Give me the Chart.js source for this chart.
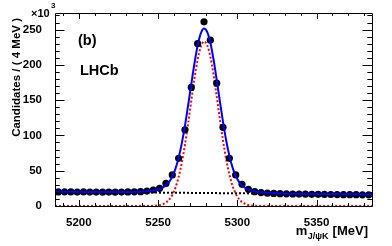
<!DOCTYPE html>
<html>
<head>
<meta charset="utf-8">
<script src="https://cdn.jsdelivr.net/npm/chart.js@4"></script>
<style>
  html, body { margin: 0; padding: 0; background: #fff; }
  #wrap { position: relative; width: 392px; height: 246px; }
</style>
</head>
<body>
<div id="wrap"><canvas id="massChart" width="392" height="246"></canvas></div>
<script>
// Bin centres (4 MeV bins) and candidates per bin, in units of 10^3
const binCenters = [5187, 5191, 5195, 5199, 5203, 5207, 5211, 5215, 5219, 5223,
    5227, 5231, 5235, 5239, 5243, 5247, 5251, 5255, 5259, 5263,
    5267, 5271, 5275, 5279, 5283, 5287, 5291, 5295, 5299, 5303,
    5307, 5311, 5315, 5319, 5323, 5327, 5331, 5335, 5339, 5343,
    5347, 5351, 5355, 5359, 5363, 5367, 5371, 5375, 5379, 5383];
const candidates = [20.0, 20.1, 19.9, 19.8, 19.9, 19.7, 19.8, 19.6, 19.8, 19.6,
    19.7, 20.0, 20.1, 20.3, 21.2, 22.7, 25.0, 32.0, 44.0, 67.5,
    108, 168, 230, 261, 235, 174, 111.5, 67.5, 44.0, 30.7,
    23.6, 20.3, 19.0, 18.2, 17.8, 17.4, 17.2, 17.0, 16.9, 16.8,
    16.6, 16.5, 16.4, 16.3, 16.2, 16.1, 16.0, 16.0, 15.9, 15.9];

// Fit curves
const curveMass = [5185, 5205, 5225, 5235, 5239, 5243, 5247, 5251, 5253, 5255,
    5257, 5259, 5261, 5263, 5265, 5267, 5269, 5271, 5273, 5275,
    5277, 5279, 5281, 5283, 5285, 5287, 5289, 5291, 5293, 5295,
    5297, 5299, 5301, 5303, 5305, 5307, 5311, 5315, 5319, 5325,
    5335, 5355, 5385];
const signalCurve = [0, 0, 0, 0, 0, 0.04, 0.25, 1.2, 2.5, 4.9,
    9.0, 15.7, 26.1, 41.2, 61.5, 87.2, 117.2, 149.4, 180.8, 207.4,
    225.7, 233.0, 228.1, 211.8, 186.6, 155.9, 123.5, 92.9, 66.2, 44.8,
    28.7, 17.5, 10.1, 5.5, 2.9, 1.4, 0.3, 0.05, 0, 0,
    0, 0, 0];
const totalCurve = [20.1, 19.9, 19.8, 20.0, 20.4, 20.9, 22.1, 24.1, 26.2, 29.4,
    34.2, 41.7, 52.8, 68.4, 88.7, 113.8, 142.8, 172.9, 202.3, 227.4,
    244.6, 251.4, 246.7, 231.6, 207.9, 179.1, 148.7, 119.1, 92.8, 71.4,
    54.8, 42.7, 34.5, 29.1, 25.6, 23.3, 20.9, 19.6, 18.9, 18.1,
    17.5, 17.0, 16.4];
const bkgMass = [5185, 5285, 5385];
const bkgCurve = [20.2, 18.3, 16.4];

// Axis ticks
const xTicks = [5200, 5250, 5300, 5350];
const yTicks = [0, 50, 100, 150, 200, 250];

const toXY = (xs, ys) => xs.map((x, i) => ({ x: x, y: ys[i] }));

// ROOT style frame: inward ticks on all four sides + text
const rootFrame = {
    id: "rootFrame",
    afterDatasetsDraw(chart) {
        const { ctx, chartArea: a, scales: { x, y } } = chart;
        ctx.save();
        ctx.strokeStyle = "#000";
        ctx.lineWidth = 1;
        ctx.beginPath();
        for (let v = 5190; v <= 5380; v += 10) {
            const px = Math.round(x.getPixelForValue(v)) + 0.5;
            const len = v % 50 === 0 ? 6 : 3;
            ctx.moveTo(px, a.bottom); ctx.lineTo(px, a.bottom - len);
            ctx.moveTo(px, a.top); ctx.lineTo(px, a.top + len);
        }
        for (let v = 0; v <= 270; v += 10) {
            const py = Math.round(y.getPixelForValue(v)) + 0.5;
            const len = v % 50 === 0 ? 9.5 : 4.7;
            ctx.moveTo(a.left, py); ctx.lineTo(a.left + len, py);
            ctx.moveTo(a.right, py); ctx.lineTo(a.right - len, py);
        }
        ctx.rect(Math.round(a.left) + 0.5, Math.round(a.top) + 0.5,
            Math.round(a.right - a.left), Math.round(a.bottom - a.top));
        ctx.stroke();

        ctx.fillStyle = "#000";
        ctx.textBaseline = "alphabetic";
        ctx.textAlign = "left";
        // multiplier
        ctx.font = "bold 11px 'Liberation Sans', Arial, sans-serif";
        ctx.fillText("\u00d710", 31, 17);
        ctx.font = "bold 8px 'Liberation Sans', Arial, sans-serif";
        ctx.fillText("3", 51, 8);
        // labels
        ctx.font = "bold 14.5px 'Liberation Sans', Arial, sans-serif";
        ctx.fillText("(b)", 78, 45);
        ctx.fillText("LHCb", 80, 75);
        // x title
        ctx.font = "bold 13px 'Liberation Sans', Arial, sans-serif";
        const unit = "[MeV]";
        const uw = ctx.measureText(unit).width;
        ctx.fillText(unit, 368 - uw, 235);
        ctx.font = "bold 9px 'Liberation Sans', Arial, sans-serif";
        const sub = "J/\u03c8K";
        const sw = ctx.measureText(sub).width;
        const subX = 368 - uw - 4 - sw;
        ctx.fillText(sub, subX, 239);
        ctx.font = "bold 13px 'Liberation Sans', Arial, sans-serif";
        const mw = ctx.measureText("m").width;
        ctx.fillText("m", subX - mw - 0.5, 235);
        // y title
        ctx.translate(17, 18);
        ctx.rotate(-Math.PI / 2);
        ctx.textAlign = "right";
        ctx.textBaseline = "middle";
        ctx.font = "bold 11.5px 'Liberation Sans', Arial, sans-serif";
        ctx.fillText("Candidates / ( 4 MeV )", 0, 0);
        ctx.restore();
    }
};

const tickFont = { family: "'Liberation Sans', Arial, sans-serif", size: 11.5, weight: "bold" };

new Chart(document.getElementById("massChart"), {
    type: "scatter",
    data: {
        datasets: [
            {
                label: "Total fit",
                data: toXY(curveMass, totalCurve),
                showLine: true,
                borderColor: "#0000ff",
                borderWidth: 2,
                pointRadius: 0,
                cubicInterpolationMode: "monotone",
                order: 0
            },
            {
                label: "Data",
                data: toXY(binCenters, candidates),
                pointRadius: 3.6,
                pointBackgroundColor: "#000",
                pointBorderWidth: 0,
                order: 1
            },
            {
                label: "Signal",
                data: toXY(curveMass, signalCurve),
                showLine: true,
                borderColor: "#ff0000",
                borderWidth: 2,
                borderDash: [2, 2],
                pointRadius: 0,
                cubicInterpolationMode: "monotone",
                order: 2
            },
            {
                label: "Background",
                data: toXY(bkgMass, bkgCurve),
                showLine: true,
                borderColor: "#000",
                borderWidth: 2,
                borderDash: [2, 2],
                pointRadius: 0,
                order: 3
            }
        ]
    },
    options: {
        responsive: false,
        animation: false,
        layout: { padding: { top: 13, right: 20, left: 0, bottom: 0 } },
        plugins: { legend: { display: false }, tooltip: { enabled: false } },
        scales: {
            x: {
                type: "linear",
                min: 5185,
                max: 5385,
                grid: { display: false },
                border: { display: false },
                afterBuildTicks: s => { s.ticks = xTicks.map(v => ({ value: v })); },
                afterFit: s => { s.height = 40; },
                ticks: { font: tickFont, color: "#000", padding: 2, maxRotation: 0, callback: v => String(v) }
            },
            y: {
                type: "linear",
                min: 0,
                max: 273.5,
                grid: { display: false },
                border: { display: false },
                afterBuildTicks: s => { s.ticks = yTicks.map(v => ({ value: v })); },
                afterFit: s => { s.width = 55; },
                ticks: { font: tickFont, color: "#000", padding: 5, callback: v => String(v) }
            }
        }
    },
    plugins: [rootFrame]
});
</script>
</body>
</html>
